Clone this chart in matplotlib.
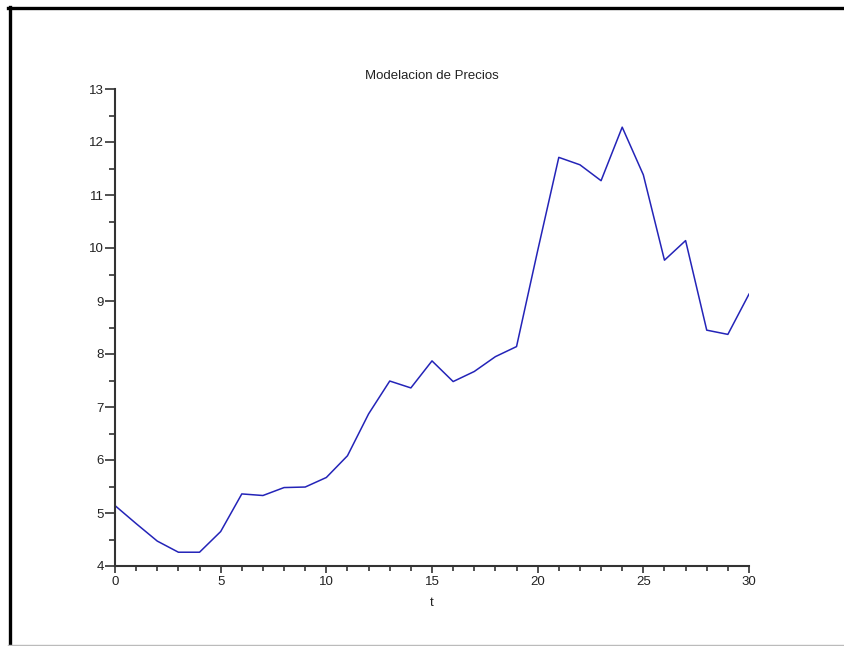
import matplotlib.pyplot as plt
from matplotlib.lines import Line2D
from matplotlib.ticker import MultipleLocator

t = list(range(31))
precios = [5.14, 4.80, 4.47, 4.26, 4.26, 4.65, 5.36, 5.33, 5.48, 5.49,
           5.67, 6.08, 6.87, 7.49, 7.36, 7.87, 7.48, 7.67, 7.95, 8.14,
           9.95, 11.71, 11.57, 11.27, 12.28, 11.38, 9.77, 10.14, 8.45, 8.37,
           9.13]

plt.rcParams['font.family'] = ['Liberation Sans', 'DejaVu Sans']

fig = plt.figure(figsize=(8.44, 6.46), dpi=100)
ax = fig.add_axes([115 / 844, 80 / 646, 634 / 844, 477 / 646])

ax.plot(t, precios, color='#2424b8', lw=1.1)

ax.set_xlim(0, 30)
ax.set_ylim(4, 13)
ax.xaxis.set_major_locator(MultipleLocator(5))
ax.xaxis.set_minor_locator(MultipleLocator(1))
ax.yaxis.set_major_locator(MultipleLocator(1))
ax.yaxis.set_minor_locator(MultipleLocator(0.5))

for s in ['top', 'right']:
    ax.spines[s].set_visible(False)
for s in ['left', 'bottom']:
    ax.spines[s].set_color('#333333')
    ax.spines[s].set_linewidth(1.5)

ax.tick_params(which='both', width=1.2, color='#333333')
ax.tick_params(axis='y', which='major', length=7, labelsize=9.5,
               labelcolor='#222222', pad=1)
ax.tick_params(axis='y', which='minor', length=4)
ax.tick_params(axis='x', which='major', length=5, labelsize=9.5,
               labelcolor='#222222', pad=2)
ax.tick_params(axis='x', which='minor', length=3.5)

ax.set_title('Modelacion de Precios', fontsize=9.5, pad=7, color='#222222')
ax.set_xlabel('t', fontsize=9.5, labelpad=7, color='#222222')

# window frame
fig.add_artist(Line2D([9.5 / 844, 9.5 / 844], [0, 1 - 7 / 646],
                      transform=fig.transFigure, color='black', lw=2.4))
fig.add_artist(Line2D([8 / 844, 1], [1 - 8 / 646, 1 - 8 / 646],
                      transform=fig.transFigure, color='black', lw=2.4))
fig.add_artist(Line2D([8 / 844, 1], [1.5 / 646, 1.5 / 646],
                      transform=fig.transFigure, color='#bbbbbb', lw=1.0))

fig.savefig('out.png', dpi=100)
